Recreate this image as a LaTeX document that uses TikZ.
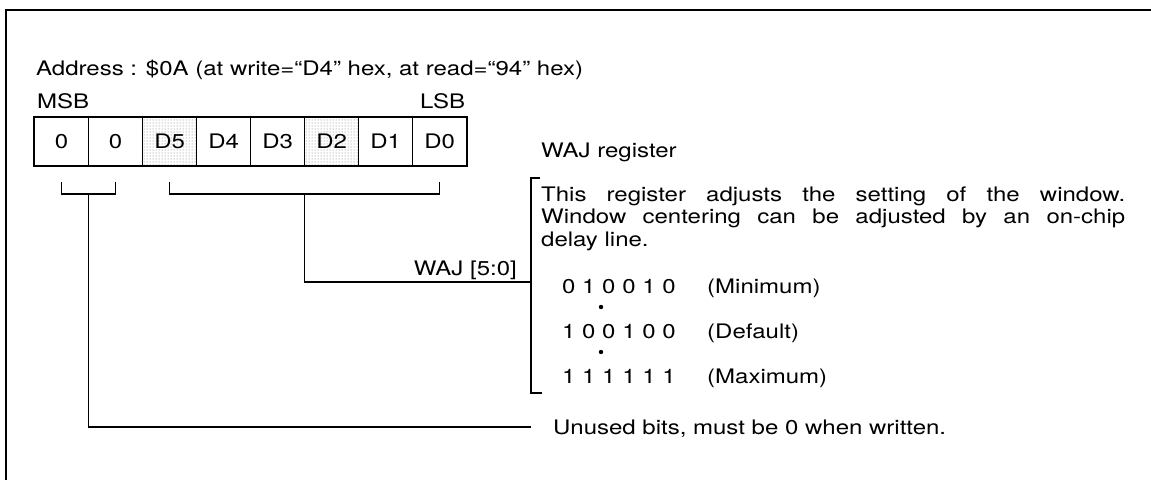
\documentclass[tikz,border=0pt]{standalone}
\usepackage{fontspec}
\setmainfont{TeX Gyre Heros}[FakeStretch=1.2]
\usetikzlibrary{calc,patterns}
\tikzset{
  lbl/.style={inner sep=0pt,font=\fontsize{20}{22.5}\selectfont},
  bitcell/.style={draw,line width=1.2pt,minimum width=54pt,minimum height=48pt,
    inner sep=0pt,anchor=north west,font=\fontsize{20}{22}\selectfont},
  plain/.style={},
  shaded/.style={pattern=dots,pattern color=black!55},
  wire/.style={line width=1.6pt}
}
\begin{document}
\begin{tikzpicture}[x=1pt,y=-1pt]
  \useasboundingbox (0,0) rectangle (1151,480);
  \draw[line width=2pt] (1151,10) -- (6,10) -- (6,480);

  \node[lbl,anchor=base west] (addr) at (36,75) {Address : \$0A (at write=“D4” hex, at read=“94” hex)};
  \node[lbl,anchor=base west] (msb) at (37,108) {MSB};

  \foreach \t/\f [count=\i from 0] in {0/plain,0/plain,D5/shaded,D4/plain,D3/plain,D2/shaded,D1/plain,D0/plain}
    \node[bitcell,\f] (c\i) at (34+54*\i,117) {\t};
  \draw[line width=2.4pt] (c0.north west) rectangle (c7.south east);
  \node[lbl,anchor=base east] (lsb) at ($(c7.north east |- msb.base)+(-2,0)$) {LSB};

  \draw[wire] ($(c0.south)+(0,16)$) |- ($(c1.south)+(0,28)$) -- ($(c1.south)+(0,16)$);
  \draw[wire] ($(c2.south)+(0,16)$) |- ($(c7.south)+(0,28)$) -- ($(c7.south)+(0,16)$);
  \coordinate (m1) at ($(c0.south)!0.5!(c1.south)+(0,28)$);
  \coordinate (m2) at ($(c2.south)!0.5!(c7.south)+(0,28)$);

  \node[lbl,anchor=base west] (wajreg) at (541,157) {WAJ register};
  \node[lbl,anchor=base west,align=left] (para) at (541,246)
    {\makebox[584pt][s]{This register adjusts the setting of the window.}\\
     \makebox[584pt][s]{Window centering can be adjusted by an on-chip}\\
     delay line.};
  \draw[wire] (540,178) -| (531,393) -- (542,393);
  \coordinate (bj) at (531,282);

  \node[lbl,anchor=base west] (cmin) at (562,293) {0 1 0 0 1 0};
  \node[lbl,anchor=base west] (cdef) at (562,338) {1 0 0 1 0 0};
  \node[lbl,anchor=base west] (cmax) at (562,383) {1 1 1 1 1 1};
  \node[lbl,anchor=base west] (tmin) at (707,293) {(Minimum)};
  \node[lbl,anchor=base west] (tdef) at (707,338) {(Default)};
  \node[lbl,anchor=base west] (tmax) at (707,383) {(Maximum)};
  \fill (601,307) circle (2.2pt);
  \fill (601,352) circle (2.2pt);

  \node[lbl,anchor=base east] (wajlbl) at (517,275) {WAJ [5:0]};
  \draw[wire] (m2) |- (bj);

  \node[lbl,anchor=base west] (unused) at (553,434) {Unused bits, must be 0 when written.};
  \draw[wire] (m1) |- (531,427);
\end{tikzpicture}
\end{document}
